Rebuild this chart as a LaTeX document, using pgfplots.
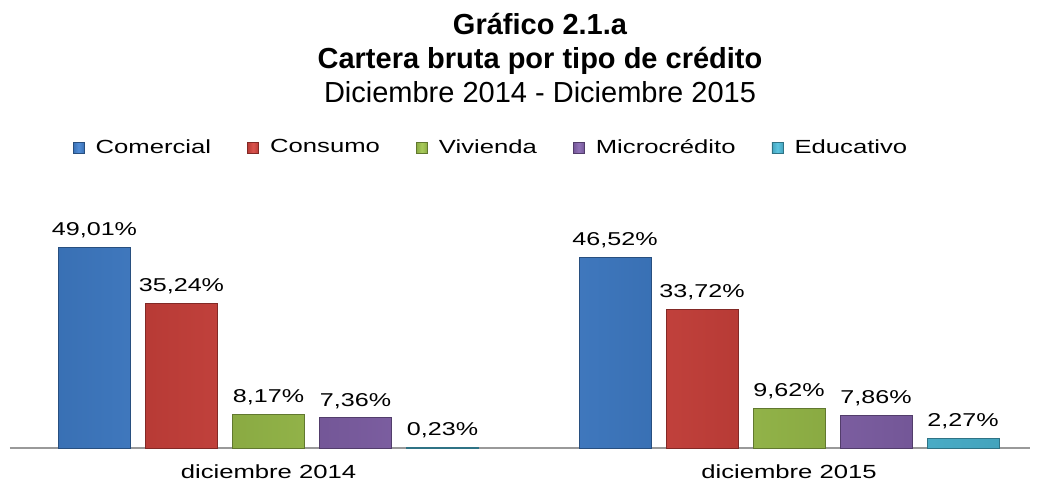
\documentclass[border=0pt]{standalone}
\usepackage{pgfplots}
\pgfplotsset{compat=1.18}
\usepackage{fontspec}
\setmainfont{Liberation Sans}
\newfontfamily\chartfont{Liberation Sans}[FakeStretch=1.35]
\definecolor{cCom}{HTML}{4384D4}
\definecolor{cCon}{HTML}{D8453F}
\definecolor{cViv}{HTML}{A2C84E}
\definecolor{cMic}{HTML}{8866B2}
\definecolor{cEdu}{HTML}{4FC0DE}
\pgfplotsset{
  barsty/.style={draw=#1!60!black, line width=0.4pt, left color=#1!85!black, right color=#1!85!black, middle color=#1!92!white},
}
\begin{document}
\begin{tikzpicture}
\useasboundingbox (-5pt,-17.5pt) rectangle (514.5pt,224pt);
\begin{axis}[
  at={(0pt,0pt)}, anchor=south west,
  width=510pt, height=224pt, scale only axis,
  xmin=-0.4966, xmax=1.463,
  ymin=0, ymax=109.27,
  clip=false,
  axis y line=none,
  axis x line*=bottom,
  x axis line style={draw=gray!80, -, line width=0.6pt},
  xtick={0,1}, xticklabels={diciembre 2014, diciembre 2015},
  major tick length=0pt,
  xticklabel style={font=\chartfont\fontsize{9.5}{11}\selectfont, yshift=-5pt},
  ybar=7.5pt, bar width=36pt,
  /pgf/number format/assume math mode=true,
  nodes near coords={\pgfmathprintnumber[fixed,zerofill,precision=2,use comma]{\pgfplotspointmeta}\%},
  every node near coord/.append style={font=\chartfont\fontsize{9.3}{11}\selectfont, text=black, inner sep=2pt, yshift=2.5pt},
  legend columns=-1,
  legend style={draw=none, fill=none, at={(rel axis cs:0.4725,0.67)}, anchor=center,
    font=\chartfont\fontsize{9.5}{11}\selectfont,
    /tikz/every odd column/.append style={column sep=3.5pt},
    /tikz/every even column/.append style={column sep=16pt}},
  legend image code/.code={\draw[#1] (0pt,-2.7pt) rectangle (5.6pt,2.7pt);},
]
\addplot[barsty=cCom] coordinates {(0,49.01) (1,46.52)};
\addplot[barsty=cCon] coordinates {(0,35.24) (1,33.72)};
\addplot[barsty=cViv] coordinates {(0,8.17) (1,9.62)};
\addplot[barsty=cMic] coordinates {(0,7.36) (1,7.86)};
\addplot[barsty=cEdu] coordinates {(0,0.23) (1,2.27)};
\legend{Comercial, Consumo, Vivienda, Microcrédito, Educativo}
\node[anchor=base, font=\bfseries\fontsize{14.5}{17}\selectfont] at (rel axis cs:0.5196,0.924) {Gráfico 2.1.a};
\node[anchor=base, font=\bfseries\fontsize{14.5}{17}\selectfont] at (rel axis cs:0.5196,0.848) {Cartera bruta por tipo de crédito};
\node[anchor=base, font=\fontsize{14.5}{17}\selectfont] at (rel axis cs:0.5196,0.772) {Diciembre 2014 - Diciembre 2015};
\end{axis}
\end{tikzpicture}
\end{document}
